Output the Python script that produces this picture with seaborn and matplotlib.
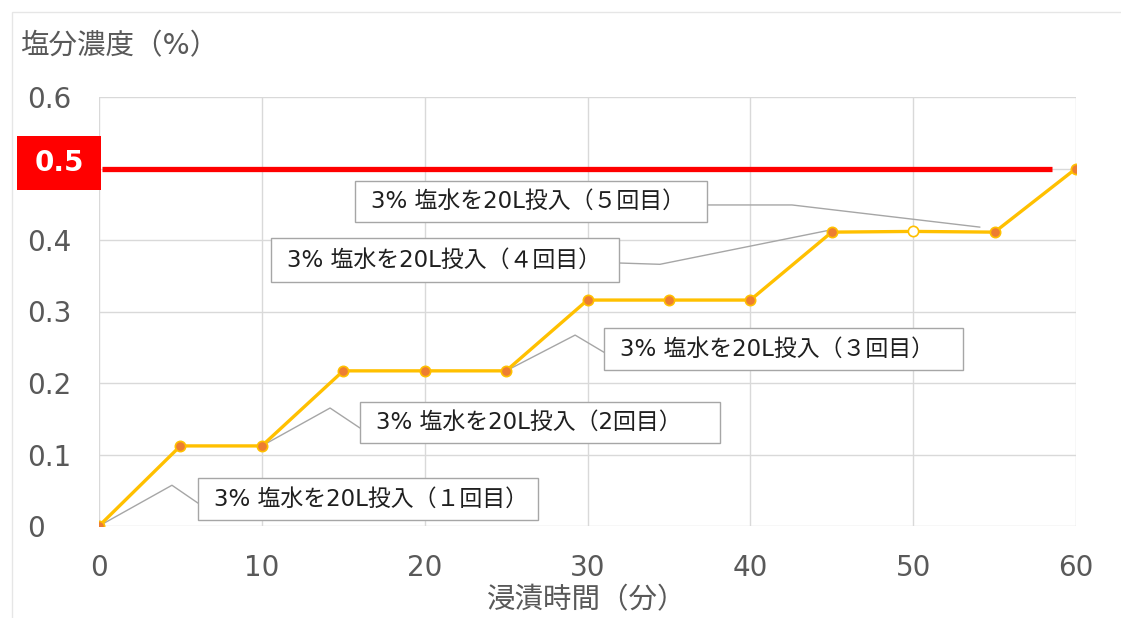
import numpy as np
import pandas as pd
import matplotlib
matplotlib.use("Agg")
import matplotlib.pyplot as plt
from matplotlib.patches import Rectangle
import seaborn as sns

# data
time_min = [0, 5, 10, 15, 20, 25, 30, 35, 40, 45, 50, 55, 60]
salinity = [0, 0.112, 0.112, 0.217, 0.217, 0.217, 0.316, 0.316, 0.316, 0.411, 0.412, 0.411, 0.5]
marker_filled = [True] * 10 + [False] + [True] * 2
threshold = 0.5

x_ticks = [0, 10, 20, 30, 40, 50, 60]
y_ticks = [0, 0.1, 0.2, 0.3, 0.4, 0.5, 0.6]
y_ticklabels = ["0", "0.1", "0.2", "0.3", "0.4", "", "0.6"]

callout_texts = ["3% 塩水を20L投入（１回目）", "3% 塩水を20L投入（2回目）",
                 "3% 塩水を20L投入（３回目）", "3% 塩水を20L投入（４回目）",
                 "3% 塩水を20L投入（５回目）"]

# callout layout: box (x0, y0, x1, y1) and leader polyline, in data units
callout_boxes = [(6.08, 0.0084, 26.96, 0.0671),
                 (16.03, 0.1161, 38.14, 0.1734),
                 (31.01, 0.2182, 53.06, 0.2769),
                 (10.56, 0.3413, 31.93, 0.4028),
                 (15.72, 0.4252, 37.34, 0.4825)]
callout_leaders = [[(0, 0), (4.48, 0.057), (6.08, 0.032)],
                   [(10, 0.112), (14.19, 0.165), (16.03, 0.137)],
                   [(25, 0.217), (29.24, 0.267), (31.01, 0.243)],
                   [(44.7, 0.413), (34.45, 0.366), (31.7, 0.368)],
                   [(54.1, 0.418), (42.56, 0.449), (37.03, 0.449)]]

df = pd.DataFrame({"time": time_min, "salinity": salinity, "filled": marker_filled})

sns.set_style("white")
# Latin glyphs in a wide Verdana-like face, Japanese falls back to Noto CJK
plt.rcParams['font.family'] = ['DejaVu Sans', 'Noto Sans CJK JP']

fig = plt.figure(figsize=(11.21, 6.18), dpi=100)
ax = fig.add_axes([99 / 1121, 1 - 526 / 618, 977 / 1121, 429 / 618])

grid_c = "#D9D9D9"
text_c = "#595959"

# threshold line
ax.hlines(threshold, 0.2, 58.5, color="#FF0000", lw=3.8, zorder=3)

# leader lines
for pts in callout_leaders:
    xs, ys = zip(*pts)
    ax.plot(xs, ys, color="#A6A6A6", lw=1.0, zorder=2)

sns.lineplot(data=df, x="time", y="salinity", color="#FFC000", lw=2.4, ax=ax, zorder=4)
sns.scatterplot(data=df[df["filled"]], x="time", y="salinity", color="#ED7D31",
                edgecolor="#FFC000", linewidth=1.2, s=55, ax=ax, zorder=5)
sns.scatterplot(data=df[~df["filled"]], x="time", y="salinity", color="white",
                edgecolor="#FFC000", linewidth=1.2, s=55, ax=ax, zorder=5)

# callout boxes
for (x0, y0, x1, y1), txt in zip(callout_boxes, callout_texts):
    ax.add_patch(Rectangle((x0, y0), x1 - x0, y1 - y0, facecolor="white",
                           edgecolor="#A6A6A6", lw=1.0, zorder=6))
    ax.text(x0 + 1.0, (y0 + y1) / 2, txt, fontsize=16.5, color="#1f1f1f",
            ha="left", va="center", zorder=7)

ax.set_xlim(0, 60)
ax.set_ylim(0, 0.6)
ax.set_xticks(x_ticks)
ax.set_yticks(y_ticks)
ax.set_yticklabels(y_ticklabels)
ax.grid(True, color=grid_c, lw=1.0)
for s in ax.spines.values():
    s.set_visible(False)
ax.tick_params(axis="both", length=0, labelsize=20, labelcolor=text_c)
ax.tick_params(axis="x", pad=20)
ax.tick_params(axis="y", pad=52)
for lbl in ax.get_yticklabels():
    lbl.set_ha("left")
ax.set_xlabel("")
ax.set_ylabel("")

fig.text(587 / 1121, 1 - 600 / 618, "浸漬時間（分）", fontsize=20.5, color=text_c,
         ha="center", va="center")
fig.text(20 / 1121, 1 - 46 / 618, "塩分濃度（%）", fontsize=20.5, color=text_c,
         ha="left", va="center")

# red label for threshold
fig.add_artist(Rectangle((17 / 1121, 1 - 190 / 618), 84 / 1121, 54 / 618,
                         transform=fig.transFigure, facecolor="#FF0000",
                         edgecolor="none", zorder=10))
fig.text(59 / 1121, 1 - 163 / 618, "0.5", fontsize=20, fontweight="bold",
         color="white", ha="center", va="center", zorder=11)

# outer chart frame
fig.add_artist(Rectangle((12 / 1121, -0.05), 1.2, 1 - 12 / 618 + 0.05,
                         transform=fig.transFigure, fill=False,
                         edgecolor="#E6E6E6", lw=1.0))

fig.savefig("out.png", dpi=100)
